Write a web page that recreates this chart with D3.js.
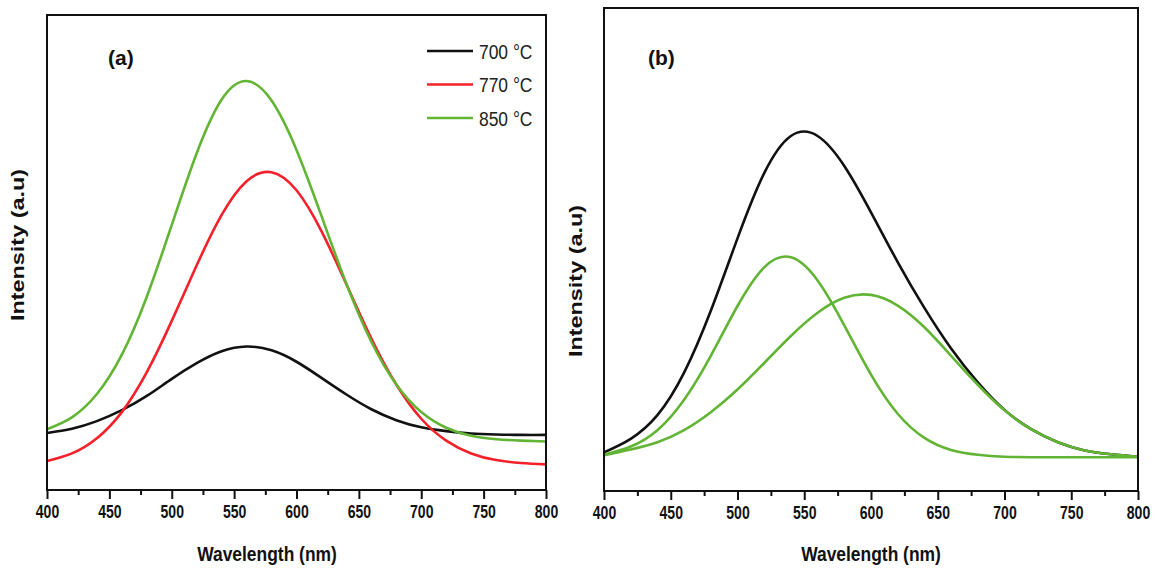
<!DOCTYPE html>
<html>
<head>
<meta charset="utf-8">
<script src="https://cdn.jsdelivr.net/npm/d3@7"></script>
<style>
  body { margin: 0; background: #fff; }
  svg { display: block; }
  text { font-family: 'Liberation Sans', Arial, sans-serif; }
</style>
</head>
<body>
<svg id="chart" width="1159" height="573"></svg>
<script>
// wavelength grid (nm) and intensities (a.u., 0 = axis, 100 = top of frame)
const wavelengths = [400, 420, 440, 460, 480, 500, 520, 540, 560, 580, 600, 620, 640, 660, 680, 700, 720, 740, 760, 780, 800];

// panel (a)
const a700 = [12.0, 12.9, 14.5, 16.8, 19.8, 23.4, 26.7, 29.2, 30.2, 29.4, 27.0, 23.6, 20.1, 17.0, 14.7, 13.2, 12.4, 11.9, 11.7, 11.6, 11.6];
const a770 = [6.1, 7.7, 10.9, 16.4, 24.8, 35.6, 47.3, 57.9, 65.0, 66.9, 63.1, 54.5, 43.3, 31.9, 22.2, 15.0, 10.4, 7.7, 6.3, 5.7, 5.4];
const a850 = [12.8, 15.3, 20.2, 28.5, 40.7, 55.8, 70.9, 82.2, 86.1, 82.0, 71.6, 57.7, 43.4, 31.2, 22.2, 16.4, 13.1, 11.4, 10.7, 10.4, 10.2];
const legendLabels = ["700 °C", "770 °C", "850 °C"];

// panel (b): total band and its two fitted components
const bTotal = [8.0, 10.8, 15.7, 24.5, 37.3, 52.3, 65.8, 73.5, 73.5, 67.3, 57.7, 47.4, 37.9, 29.5, 22.5, 16.8, 12.8, 10.1, 8.4, 7.6, 7.1];
const bPeak1 = [7.5, 9.2, 12.6, 18.9, 28.0, 38.3, 46.3, 48.4, 43.6, 34.3, 24.1, 16.0, 11.0, 8.5, 7.5, 7.1, 7.0, 7.0, 7.0, 7.0, 7.0];
const bPeak2 = [7.4, 8.6, 10.1, 12.6, 16.3, 21.0, 26.5, 32.1, 36.9, 40.0, 40.6, 38.4, 33.9, 28.0, 22.0, 16.7, 12.8, 10.1, 8.4, 7.6, 7.1];

const xTicks = [400, 450, 500, 550, 600, 650, 700, 750, 800];
const xMinorTicks = [425, 475, 525, 575, 625, 675, 725, 775];

const BLACK = "#111", RED = "#f4202a", GREEN = "#62b534";

const svg = d3.select("#chart");

function drawPanel(p) {
    const x = d3.scaleLinear().domain([400, 800]).range([p.left, p.right]);
    const y = d3.scaleLinear().domain([0, 100]).range([p.bottom, p.top]);
    const g = svg.append("g");

    const line = d3.line()
        .x((d, i) => x(wavelengths[i]))
        .y(d => y(d))
        .curve(d3.curveNatural);

    g.selectAll("path.series")
        .data(p.series)
        .enter()
        .append("path")
        .attr("class", "series")
        .attr("d", d => line(d.values))
        .attr("fill", "none")
        .attr("stroke", d => d.color)
        .attr("stroke-width", 2.6);

    // frame
    g.append("rect")
        .attr("x", p.left).attr("y", p.top)
        .attr("width", p.right - p.left).attr("height", p.bottom - p.top)
        .attr("fill", "none").attr("stroke", "#111").attr("stroke-width", 2);

    // bottom axis, major + minor ticks
    const major = g.append("g")
        .attr("transform", `translate(0,${p.bottom})`)
        .call(d3.axisBottom(x).tickValues(xTicks).tickSize(9).tickPadding(6).tickFormat(d3.format("d")));
    const minor = g.append("g")
        .attr("transform", `translate(0,${p.bottom})`)
        .call(d3.axisBottom(x).tickValues(xMinorTicks).tickSize(5).tickFormat(""));
    [major, minor].forEach(a => {
        a.select(".domain").remove();
        a.selectAll(".tick line").attr("stroke", "#111").attr("stroke-width", 2);
    });
    // the original figure is stretched vertically: squeeze horizontal text
    major.selectAll(".tick text")
        .attr("font-family", "'Liberation Sans', Arial, sans-serif")
        .attr("fill", "#111")
        .attr("font-size", 18)
        .attr("font-weight", "bold")
        .attr("transform", "scale(0.78,1)");

    g.append("text")
        .attr("transform", `translate(${p.xLabelX},561) scale(0.83,1)`)
        .attr("text-anchor", "middle")
        .attr("font-size", 21).attr("font-weight", "bold").attr("fill", "#111")
        .text("Wavelength (nm)");

    g.append("text")
        .attr("transform", `translate(${p.yLabelX},${p.yLabelY}) rotate(-90) scale(1.3,1)`)
        .attr("text-anchor", "middle")
        .attr("font-size", 18).attr("font-weight", "bold").attr("fill", "#111")
        .text("Intensity (a.u)");

    g.append("text")
        .attr("x", p.tagX).attr("y", 65)
        .attr("font-family", "'Open Sans', 'Liberation Sans', sans-serif")
        .attr("font-size", 21).attr("font-weight", "bold").attr("fill", "#111")
        .text(p.tag);

    return { x, y, g };
}

const panelA = drawPanel({
    left: 47, right: 546, top: 15, bottom: 490,
    xLabelX: 267, yLabelX: 24, yLabelY: 245, tagX: 108, tag: "(a)",
    series: [
        { values: a700, color: BLACK },
        { values: a770, color: RED },
        { values: a850, color: GREEN }
    ]
});

drawPanel({
    left: 604, right: 1138, top: 8, bottom: 491,
    xLabelX: 871, yLabelX: 582, yLabelY: 281, tagX: 648, tag: "(b)",
    series: [
        { values: bTotal, color: BLACK },
        { values: bPeak1, color: GREEN },
        { values: bPeak2, color: GREEN }
    ]
});

// legend for panel (a)
const legendColors = [BLACK, RED, GREEN];
const leg = panelA.g.selectAll("g.legend")
    .data(legendLabels)
    .enter()
    .append("g")
    .attr("class", "legend")
    .attr("transform", (d, i) => `translate(427,${51 + i * 33.5})`);
leg.append("line")
    .attr("x1", 0).attr("x2", 46)
    .attr("stroke", (d, i) => legendColors[i])
    .attr("stroke-width", 2.6);
leg.append("text")
    .attr("transform", "translate(52,7.5) scale(0.83,1)")
    .attr("font-size", 21).attr("fill", "#222")
    .text(d => d);
</script>
</body>
</html>
